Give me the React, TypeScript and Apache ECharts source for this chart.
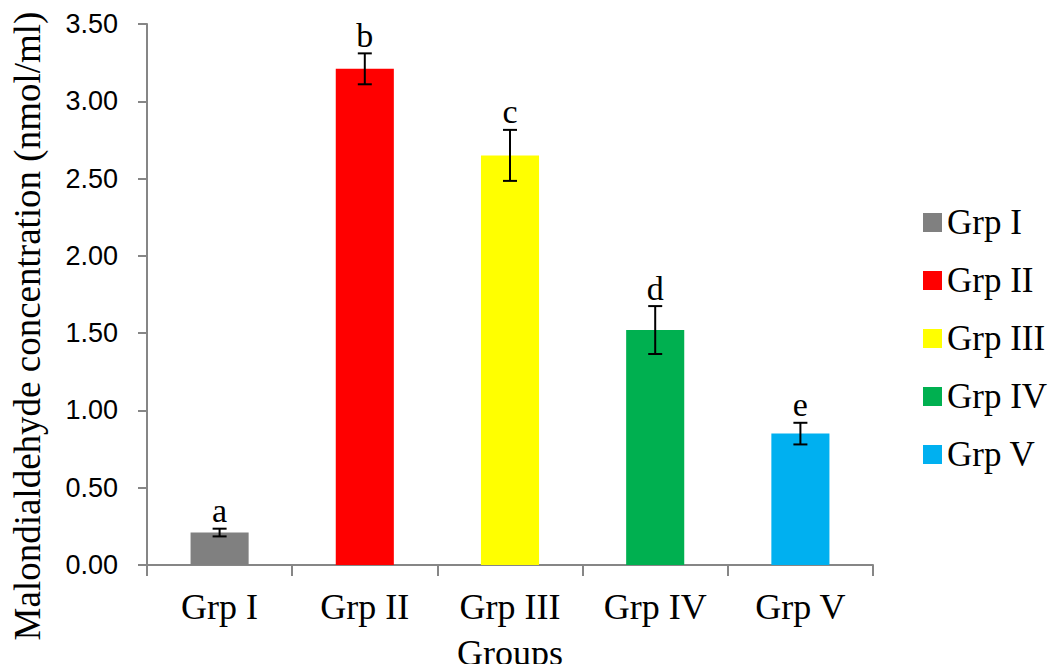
import React, { useEffect, useRef } from "react";
import * as echarts from "echarts";

const categories = ["Grp I", "Grp II", "Grp III", "Grp IV", "Grp V"];
const values = [0.21, 3.21, 2.65, 1.52, 0.85];
const errors = [0.025, 0.1, 0.165, 0.155, 0.07];
const letters = ["a", "b", "c", "d", "e"];
const colors = ["#808080", "#FF0000", "#FFFF00", "#00B050", "#00B0F0"];
const yTicks = { min: 0, max: 3.5, interval: 0.5 };
const yTitle = "Malondialdehyde concentration (nmol/ml)";
const xTitle = "Groups";

const SERIF = "'Liberation Serif', 'Times New Roman', serif";
const SANS = "'Liberation Sans', Arial, sans-serif";

export default function App() {
  const ref = useRef<HTMLDivElement>(null);
  useEffect(() => {
    if (!ref.current) return;
    const chart = echarts.init(ref.current, undefined, { renderer: "svg" });
    const barSeries = categories.map((name, i) => ({
      name,
      type: "bar",
      stack: "all",
      barWidth: "40%",
      data: categories.map((_, j) => (j === i ? values[i] : "-")),
      itemStyle: { color: colors[i] },
    }));
    const errSeries = {
      type: "custom",
      name: "err",
      data: values.map((v, i) => [i, v, errors[i]]),
      z: 10,
      renderItem: (params: any, api: any) => {
        const x = api.value(0);
        const v = api.value(1);
        const e = api.value(2);
        const top = api.coord([x, v + e]);
        const bot = api.coord([x, v - e]);
        const cap = 7;
        const style = { stroke: "#000", lineWidth: 2 };
        return {
          type: "group",
          children: [
            { type: "line", shape: { x1: top[0], y1: top[1], x2: bot[0], y2: bot[1] }, style },
            { type: "line", shape: { x1: top[0] - cap, y1: top[1], x2: top[0] + cap, y2: top[1] }, style },
            { type: "line", shape: { x1: bot[0] - cap, y1: bot[1], x2: bot[0] + cap, y2: bot[1] }, style },
            {
              type: "text",
              x: top[0],
              y: top[1] - 1,
              style: {
                text: letters[params.dataIndex],
                fontFamily: SERIF,
                fontSize: 34,
                fill: "#000",
                align: "center",
                verticalAlign: "bottom",
              },
            },
          ],
        };
      },
    };
    chart.setOption({
      animation: false,
      backgroundColor: "#fff",
      grid: { left: 147, right: 182, top: 24, bottom: 99, containLabel: false, outerBoundsMode: "none" },
      legend: {
        orient: "vertical",
        left: 918,
        top: 200,
        icon: "rect",
        itemWidth: 19,
        itemHeight: 19,
        itemGap: 23,
        data: categories,
        textStyle: { fontFamily: SERIF, fontSize: 35, color: "#000", padding: [0, 0, 0, 0] },
      },
      graphic: [
        {
          type: "text",
          x: 27,
          y: 326,
          rotation: Math.PI / 2,
          style: {
            text: yTitle,
            fontFamily: SERIF,
            fontSize: 37,
            fill: "#000",
            align: "center",
            verticalAlign: "middle",
          },
        },
      ],
      xAxis: {
        type: "category",
        data: categories,
        name: xTitle,
        nameLocation: "middle",
        nameGap: 70,
        nameTextStyle: { fontFamily: SERIF, fontSize: 36, color: "#000" },
        axisLine: { lineStyle: { color: "#868686", width: 2 } },
        axisTick: { show: true, length: 11, lineStyle: { color: "#868686", width: 2 } },
        axisLabel: { fontFamily: SERIF, fontSize: 36, color: "#000", margin: 24 },
      },
      yAxis: {
        type: "value",
        min: yTicks.min,
        max: yTicks.max,
        interval: yTicks.interval,
        axisLine: { show: true, lineStyle: { color: "#868686", width: 2 } },
        axisTick: { show: true, length: 9, lineStyle: { color: "#868686", width: 2 } },
        splitLine: { show: false },
        axisLabel: {
          fontFamily: SANS,
          fontSize: 27,
          color: "#000",
          margin: 29,
          formatter: (v: number) => v.toFixed(2),
        },
      },
      series: [...barSeries, errSeries],
    });
    return () => chart.dispose();
  }, []);
  return (
    <div
      ref={ref}
      style={{ position: "fixed", left: 0, top: 0, width: 1055, height: 664, background: "#fff" }}
    />
  );
}
